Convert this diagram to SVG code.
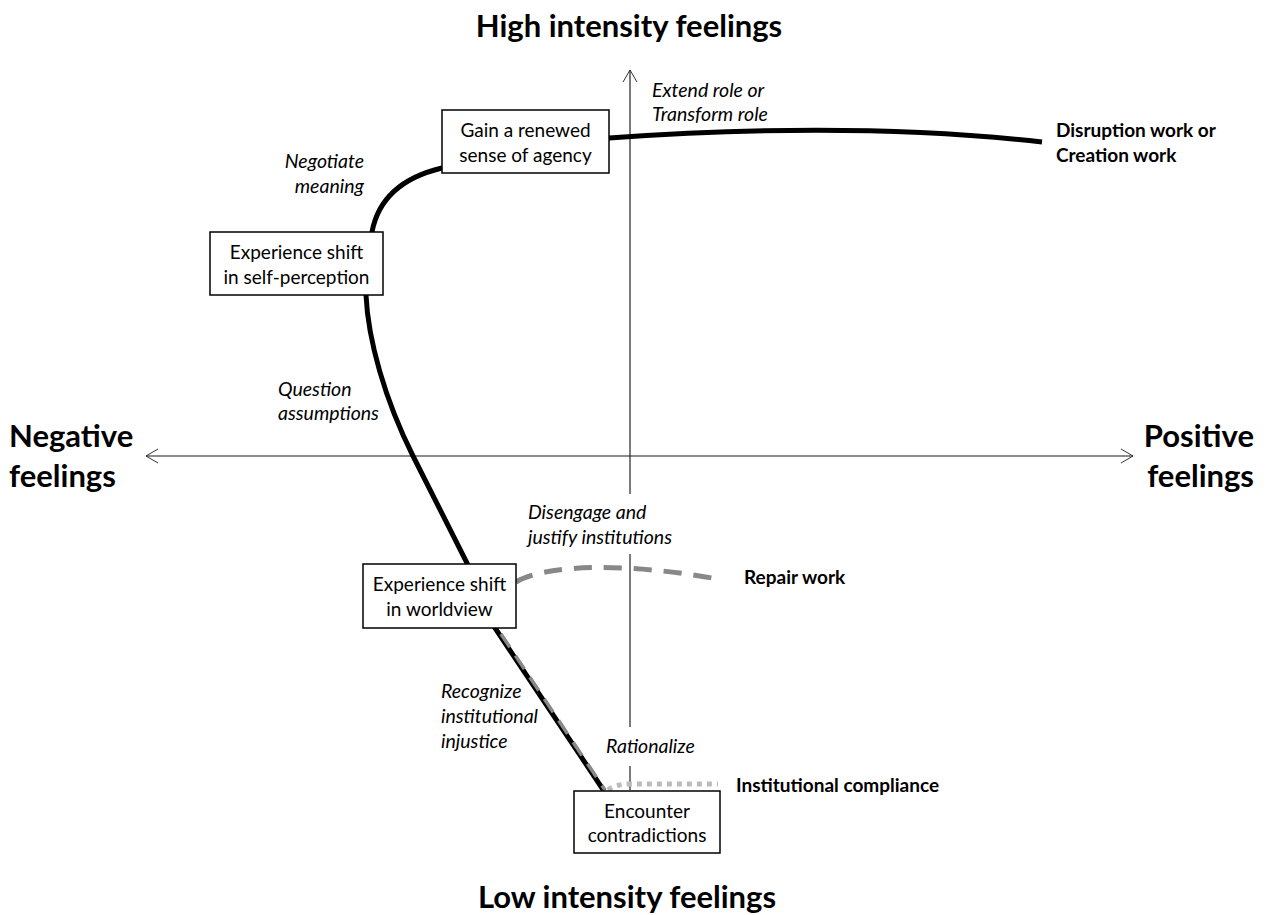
<svg xmlns="http://www.w3.org/2000/svg" width="1266" height="915" viewBox="0 0 1266 915">
  <style>
    text { font-family: Lato, "Open Sans", "Liberation Sans", sans-serif; fill: #000; }
    .axis-title { font-size: 31px; font-weight: bold; }
    .node-label { font-size: 19px; text-anchor: middle; }
    .step { font-size: 19.5px; font-style: italic; }
    .outcome { font-size: 19px; font-weight: bold; }
    .node rect { fill: #fff; stroke: #000; stroke-width: 1.5; }
    .bg { fill: #fff; }
    .path-main { fill: none; stroke: #000; stroke-width: 5; }
    .path-repair { fill: none; stroke: #888; stroke-width: 5; stroke-dasharray: 18 12; }
    .path-overlay { fill: none; stroke: #888; stroke-width: 3.5; stroke-dasharray: 16 10; }
    .path-comply { fill: none; stroke: #bbb; stroke-width: 5; stroke-dasharray: 5 5; }
  </style>
  <defs>
    <marker id="chev" viewBox="0 0 14 16" refX="13" refY="8" markerWidth="14" markerHeight="16" markerUnits="userSpaceOnUse" orient="auto-start-reverse">
      <path d="M1 1 L13 8 L1 15" fill="none" stroke="#333" stroke-width="1"/>
    </marker>
  </defs>

  <rect width="1266" height="915" fill="#fff"/>

  <!-- axes -->
  <g id="axes">
    <line x1="146" y1="456" x2="1133" y2="456" stroke="#666" stroke-width="1.3" marker-start="url(#chev)" marker-end="url(#chev)"/>
    <line x1="630" y1="790" x2="630" y2="70" stroke="#222" stroke-width="1.2" marker-end="url(#chev)"/>
  </g>

  <!-- label backgrounds that interrupt the vertical axis -->
  <g id="label-backgrounds">
    <rect class="bg" x="510" y="494" width="175" height="60"/>
    <rect class="bg" x="592" y="727" width="118" height="39"/>
  </g>

  <text class="axis-title" x="629" y="37" text-anchor="middle">High intensity feelings</text>
  <text class="axis-title" x="627" y="908" text-anchor="middle">Low intensity feelings</text>
  <text class="axis-title" x="9" y="447">Negative</text>
  <text class="axis-title" x="9" y="487">feelings</text>
  <text class="axis-title" x="1254" y="447" text-anchor="end">Positive</text>
  <text class="axis-title" x="1254" y="487" text-anchor="end">feelings</text>

  <!-- trajectories -->
  <g id="connectors">
    <path class="path-main" d="M604 791 L495 628 L467 563 L413 456 C385 400 368 340 366 295 L372 232 C378 200 400 178 442 168 L609 138 C750 128 900 126 1042 142"/>
    <path class="path-overlay" d="M501 634 L605 790"/>
    <path class="path-repair" d="M516 582 C545 565 620 562 712 578"/>
    <path class="path-comply" d="M608 790 Q616 784 630 784 L718 784"/>
  </g>

  <!-- stages -->
  <g id="node-agency" class="node">
    <rect x="442" y="110" width="167" height="63"/>
    <text class="node-label" x="525.5" y="137">Gain a renewed</text>
    <text class="node-label" x="525.5" y="162">sense of agency</text>
  </g>
  <g id="node-self" class="node">
    <rect x="210" y="232" width="173" height="63"/>
    <text class="node-label" x="296.5" y="259">Experience shift</text>
    <text class="node-label" x="296.5" y="284">in self-perception</text>
  </g>
  <g id="node-worldview" class="node">
    <rect x="363" y="564" width="153" height="64"/>
    <text class="node-label" x="439.5" y="591">Experience shift</text>
    <text class="node-label" x="439.5" y="616">in worldview</text>
  </g>
  <g id="node-contradictions" class="node">
    <rect x="574" y="791" width="146" height="62"/>
    <text class="node-label" x="647" y="818">Encounter</text>
    <text class="node-label" x="647" y="842">contradictions</text>
  </g>

  <!-- process labels -->
  <g id="step-labels">
    <text class="step" x="364" y="168" text-anchor="end">Negotiate</text>
    <text class="step" x="364" y="193" text-anchor="end">meaning</text>
    <text class="step" x="652" y="97">Extend role or</text>
    <text class="step" x="652" y="121">Transform role</text>
    <text class="step" x="278" y="396">Question</text>
    <text class="step" x="278" y="420">assumptions</text>
    <text class="step" x="528" y="519">Disengage and</text>
    <text class="step" x="528" y="544">justify institutions</text>
    <text class="step" x="441" y="698">Recognize</text>
    <text class="step" x="441" y="723">institutional</text>
    <text class="step" x="441" y="748">injustice</text>
    <text class="step" x="606" y="753">Rationalize</text>
  </g>

  <!-- outcomes -->
  <g id="outcome-labels">
    <text class="outcome" x="1056" y="137">Disruption work or</text>
    <text class="outcome" x="1056" y="162">Creation work</text>
    <text class="outcome" x="744" y="584">Repair work</text>
    <text class="outcome" x="736" y="792">Institutional compliance</text>
  </g>
</svg>
